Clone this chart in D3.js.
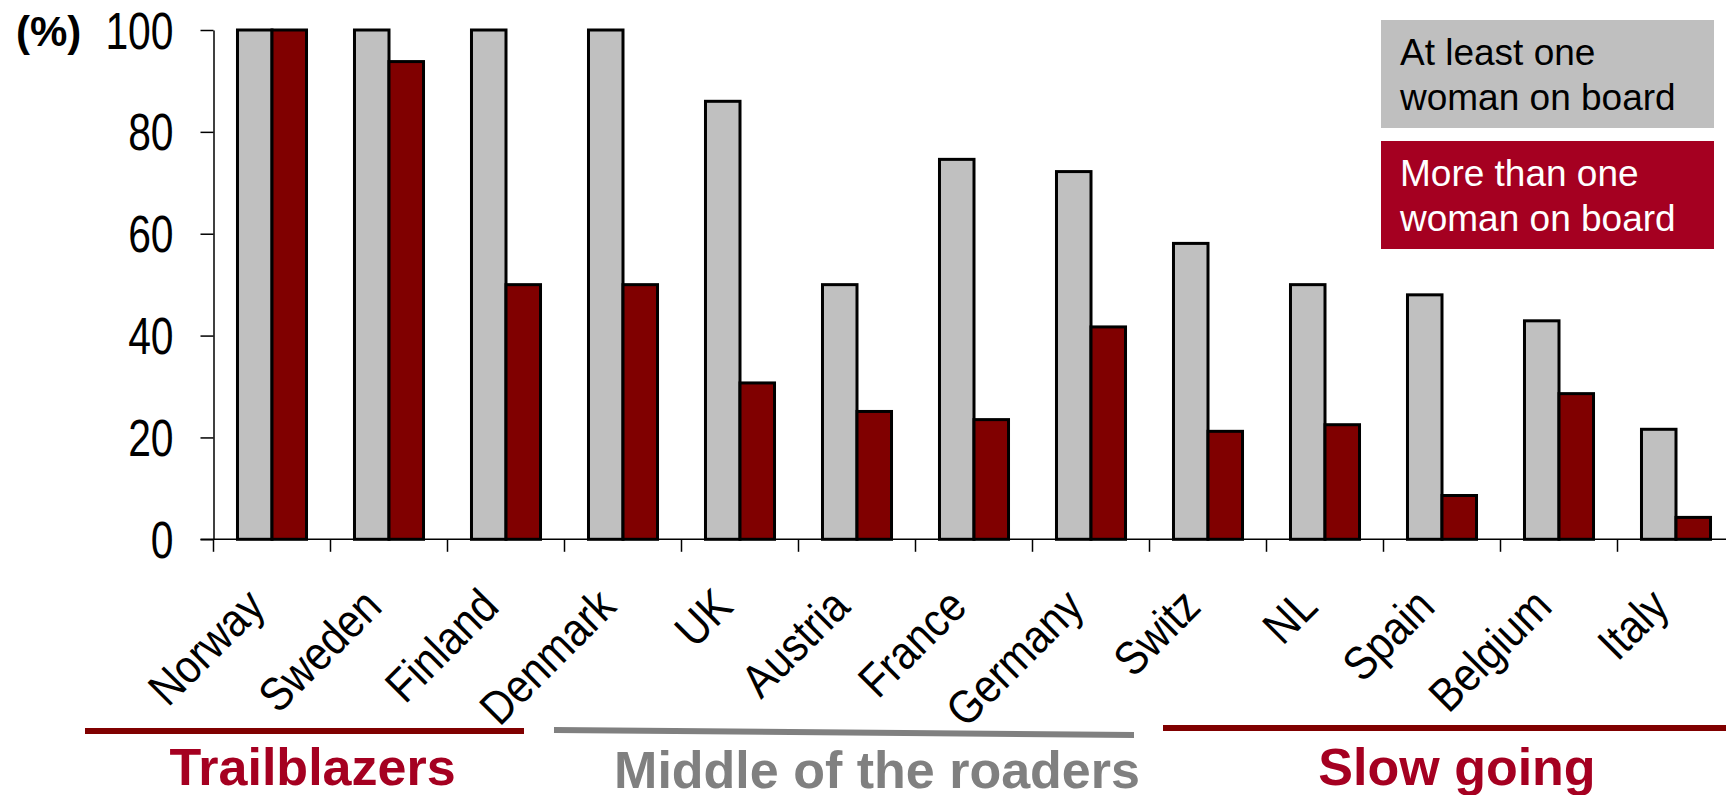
<!DOCTYPE html>
<html>
<head>
<meta charset="utf-8">
<script src="https://cdn.jsdelivr.net/npm/d3@7/dist/d3.min.js"></script>
<style>
  html, body { margin: 0; padding: 0; background: #fff; }
  svg { display: block; font-family: "Liberation Sans", Arial, Helvetica, sans-serif; }
</style>
</head>
<body>
<svg id="chart" width="1726" height="795"></svg>
<script>
// Share of companies with women on the board, by country (%)
const countries = ["Norway", "Sweden", "Finland", "Denmark", "UK", "Austria", "France",
                   "Germany", "Switz", "NL", "Spain", "Belgium", "Italy"];
const atLeastOne = [100, 100, 100, 100, 86, 50, 74.6, 72.2, 58.1, 50, 48, 42.9, 21.6];
const moreThanOne = [100, 93.8, 50, 50, 30.7, 25.1, 23.5, 41.7, 21.2, 22.5, 8.6, 28.6, 4.3];
const yTicks = [0, 20, 40, 60, 80, 100];
const seriesNames = ["At least one\nwoman on board", "More than one\nwoman on board"];
const groups = [
  { name: "Trailblazers", from: "Norway", to: "Denmark" },
  { name: "Middle of the roaders", from: "UK", to: "Germany" },
  { name: "Slow going", from: "Switz", to: "Italy" }
];

const svg = d3.select("#chart");
const plot = { left: 213.5, top: 30, bottom: 539.3, step: 117 };

const x = d3.scaleBand()
  .domain(countries)
  .range([plot.left, plot.left + plot.step * countries.length])
  .padding(0);
const y = d3.scaleLinear().domain([0, 100]).range([plot.bottom, plot.top]);

const barW = x.bandwidth() * 0.295;
const pairOffset = (x.bandwidth() - 2 * barW) / 2;

const colGray = "#c0c0c0", colRed = "#800000";

// Bars
const rows = countries.map((c, i) => ({ c, a: atLeastOne[i], m: moreThanOne[i] }));
const barG = svg.append("g");
barG.selectAll("rect.a").data(rows).join("rect")
  .attr("class", "a")
  .attr("x", d => x(d.c) + pairOffset)
  .attr("y", d => y(d.a))
  .attr("width", barW)
  .attr("height", d => y(0) - y(d.a))
  .attr("fill", colGray).attr("stroke", "#000").attr("stroke-width", 3);
barG.selectAll("rect.m").data(rows).join("rect")
  .attr("class", "m")
  .attr("x", d => x(d.c) + pairOffset + barW)
  .attr("y", d => y(d.m))
  .attr("width", barW)
  .attr("height", d => y(0) - y(d.m))
  .attr("fill", colRed).attr("stroke", "#000").attr("stroke-width", 3);

// Y axis
const yAxis = svg.append("g")
  .attr("transform", `translate(${plot.left},0)`)
  .call(d3.axisLeft(y).tickValues(yTicks).tickSize(13).tickSizeOuter(0).tickFormat(d3.format("d")));
yAxis.select(".domain").attr("stroke", "#000").attr("stroke-width", 1.5);
yAxis.selectAll(".tick line").attr("stroke", "#000").attr("stroke-width", 1.5);
yAxis.selectAll(".tick text")
  .attr("x", null).attr("dy", null)
  .attr("transform", "translate(-40,18) scale(0.8,1)")
  .attr("text-anchor", "end")
  .attr("fill", "#000")
  .style("font-size", "51px")
  .style("font-family", "'Liberation Sans', Arial, sans-serif");

// X axis: baseline with ticks between categories
const xEnd = x.range()[1];
const xAxis = svg.append("g");
xAxis.append("line")
  .attr("x1", plot.left - 13).attr("x2", xEnd)
  .attr("y1", y(0)).attr("y2", y(0))
  .attr("stroke", "#000").attr("stroke-width", 1.5);
xAxis.selectAll("line.tick").data(countries.concat(["__end"])).join("line")
  .attr("class", "tick")
  .attr("x1", d => d === "__end" ? xEnd : x(d))
  .attr("x2", d => d === "__end" ? xEnd : x(d))
  .attr("y1", y(0)).attr("y2", y(0) + 12.5)
  .attr("stroke", "#000").attr("stroke-width", 1.5);

// Rotated category labels
xAxis.selectAll("text.cat").data(countries).join("text")
  .attr("class", "cat")
  .attr("transform", d => `translate(${x(d) + x.bandwidth() / 2 - 5},609) rotate(-45) scale(0.88,1)`)
  .attr("text-anchor", "end")
  .attr("fill", "#000")
  .style("font-size", "47px")
  .text(d => d);

// Unit label
svg.append("text")
  .attr("x", 16).attr("y", 46)
  .attr("font-weight", "bold")
  .style("font-size", "42px")
  .attr("fill", "#000")
  .text("(%)");

// Legend
const legend = [
  { label: seriesNames[0], fill: "#bfbfbf", text: "#000", y: 20 },
  { label: seriesNames[1], fill: "#a50021", text: "#fff", y: 141 }
];
const lg = svg.append("g");
legend.forEach(l => {
  lg.append("rect")
    .attr("x", 1381).attr("y", l.y)
    .attr("width", 333).attr("height", 108)
    .attr("fill", l.fill);
  const t = lg.append("text")
    .attr("fill", l.text)
    .style("font-size", "37px");
  l.label.split("\n").forEach((line, i) => {
    t.append("tspan").attr("x", 1400).attr("y", l.y + 45 + i * 45).text(line);
  });
});

// Country groups: underline and heading
const groupStyle = {
  "Trailblazers": { line: "#800000", text: "#a50021", x1: 85, x2: 524, y1: 731, y2: 731, ty: 785 },
  "Middle of the roaders": { line: "#808080", text: "#808080", x1: 554, x2: 1134, y1: 730, y2: 735, ty: 788 },
  "Slow going": { line: "#800000", text: "#a50021", x1: 1163, x2: 1726, y1: 728, y2: 728, ty: 785 }
};
const gg = svg.append("g");
groups.forEach(g => {
  const s = groupStyle[g.name];
  gg.append("line")
    .attr("x1", s.x1).attr("x2", s.x2)
    .attr("y1", s.y1).attr("y2", s.y2)
    .attr("stroke", s.line).attr("stroke-width", 6);
  const cx = g.name === "Slow going" ? 1457 : (s.x1 + s.x2) / 2 + (g.name === "Trailblazers" ? 8 : 33);
  gg.append("text")
    .attr("x", cx).attr("y", s.ty)
    .attr("text-anchor", "middle")
    .attr("font-weight", "bold")
    .attr("fill", s.text)
    .style("font-size", "52px")
    .text(g.name);
});
</script>
</body>
</html>
